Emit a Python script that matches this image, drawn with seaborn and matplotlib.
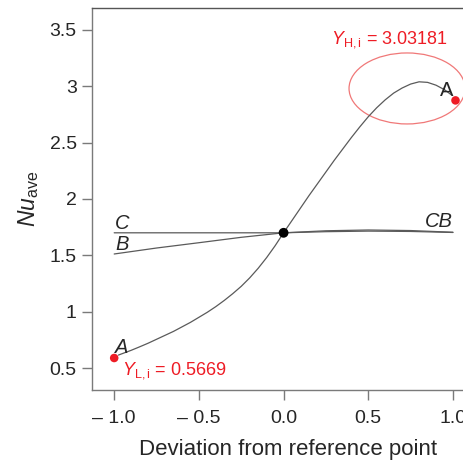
import matplotlib
matplotlib.use("Agg")
import matplotlib.pyplot as plt
import seaborn as sns
from matplotlib.patches import Ellipse

# ---- data ----
a_x = [-0.975, -0.9, -0.85, -0.8, -0.75, -0.7, -0.65, -0.6, -0.55, -0.5, -0.45,
       -0.4, -0.35, -0.3, -0.25, -0.2, -0.15, -0.1, -0.05, 0.0,
       0.05, 0.1, 0.15, 0.2, 0.25, 0.3, 0.35, 0.4, 0.45, 0.5, 0.55, 0.6,
       0.65, 0.7, 0.75, 0.8, 0.85, 0.9, 0.95, 0.99]
a_y = [0.615, 0.657, 0.688, 0.72, 0.755, 0.79, 0.825, 0.865, 0.905, 0.95, 0.995,
       1.045, 1.10, 1.16, 1.225, 1.30, 1.385, 1.48, 1.585, 1.70,
       1.81, 1.92, 2.03, 2.135, 2.24, 2.345, 2.445, 2.545, 2.64, 2.73, 2.81, 2.88,
       2.94, 2.985, 3.02, 3.04, 3.035, 3.01, 2.97, 2.925]
b_x = [-1.0, -0.75, -0.5, -0.25, 0.0, 0.25, 0.5, 0.75, 1.0]
b_y = [1.512, 1.565, 1.612, 1.66, 1.70, 1.718, 1.725, 1.72, 1.705]
c_x = [-1.0, -0.5, 0.0, 0.25, 0.5, 0.75, 1.0]
c_y = [1.70, 1.70, 1.70, 1.71, 1.715, 1.712, 1.703]
red_x = [-1.0, 1.015]
red_y = [0.589, 2.875]
ref_x = [0.0]
ref_y = [1.70]
x_ticks = [-1.0, -0.5, 0.0, 0.5, 1.0]
x_tick_labels = ["\u2013 1.0", "\u2013 0.5", "0.0", "0.5", "1.0"]
y_ticks = [0.5, 1.0, 1.5, 2.0, 2.5, 3.0, 3.5]
y_tick_labels = ["0.5", "1", "1.5", "2", "2.5", "3", "3.5"]

sns.set_style("white")
plt.rcParams["font.family"] = ["Liberation Sans", "DejaVu Sans"]
plt.rcParams["mathtext.fontset"] = "custom"
plt.rcParams["mathtext.rm"] = "Liberation Sans"
plt.rcParams["mathtext.it"] = "Liberation Sans:italic"

fig = plt.figure(figsize=(4.64, 4.63), dpi=100)
ax = fig.add_axes([92 / 464, 1 - 390 / 463, 374 / 464, 382 / 463])

line_col = "#5a5a5a"
for xs, ys in [(a_x, a_y), (b_x, b_y), (c_x, c_y)]:
    sns.lineplot(x=xs, y=ys, ax=ax, color=line_col, linewidth=0.9,
                 sort=False, estimator=None)

sns.scatterplot(x=red_x, y=red_y, ax=ax, color="#ee1c25", s=38,
                edgecolor="none", zorder=5)
sns.scatterplot(x=ref_x, y=ref_y, ax=ax, color="black", s=50,
                edgecolor="none", zorder=5)

ell = Ellipse((0.729, 2.981), 0.685, 0.63, fill=False,
              edgecolor="#f07878", linewidth=0.9)
ax.add_patch(ell)

red = "#ee1c25"
ax.text(-0.955, 0.44, r"$\it{Y}_{\rm{L,i}}$ = 0.5669", color=red, fontsize=13,
        ha="left", va="baseline")
ax.text(0.28, 3.376, r"$\it{Y}_{\rm{H,i}}$ = 3.03181", color=red, fontsize=13,
        ha="left", va="baseline")
ax.text(0.96, 2.915, "A", fontsize=14.5, ha="center", va="baseline")
ax.text(-0.995, 0.634, "A", fontsize=14.5, style="italic", ha="left", va="baseline")
ax.text(-0.995, 1.548, "B", fontsize=14.5, style="italic", ha="left", va="baseline")
ax.text(-0.995, 1.734, "C", fontsize=14.5, style="italic", ha="left", va="baseline")
ax.text(0.835, 1.752, "CB", fontsize=14.5, style="italic", ha="left", va="baseline")

ax.set_xlim(-1.131, 1.077)
ax.set_ylim(0.305, 3.695)
ax.set_xticks(x_ticks)
ax.set_xticklabels(x_tick_labels)
ax.set_yticks(y_ticks)
ax.set_yticklabels(y_tick_labels)

spine_col = "#7a7a7a"
for s in ["left", "bottom"]:
    ax.spines[s].set_color(spine_col)
    ax.spines[s].set_linewidth(1.0)
ax.spines["top"].set_color("#555555")
ax.spines["top"].set_linewidth(1.0)
ax.spines["right"].set_visible(False)
ax.tick_params(axis="both", direction="out", length=7, width=1.0,
               color=spine_col, labelsize=14, left=True, bottom=True)
ax.tick_params(axis="y", pad=4)
ax.tick_params(axis="x", pad=7.5)

ax.set_xlabel("Deviation from reference point", fontsize=16)
ax.xaxis.set_label_coords((288 - 92) / 374, -(439 - 390) / 382)
ax.set_ylabel(r"$\it{Nu}_{\rm{ave}}$", fontsize=16.5, labelpad=6)

fig.savefig("out.png", dpi=100)
